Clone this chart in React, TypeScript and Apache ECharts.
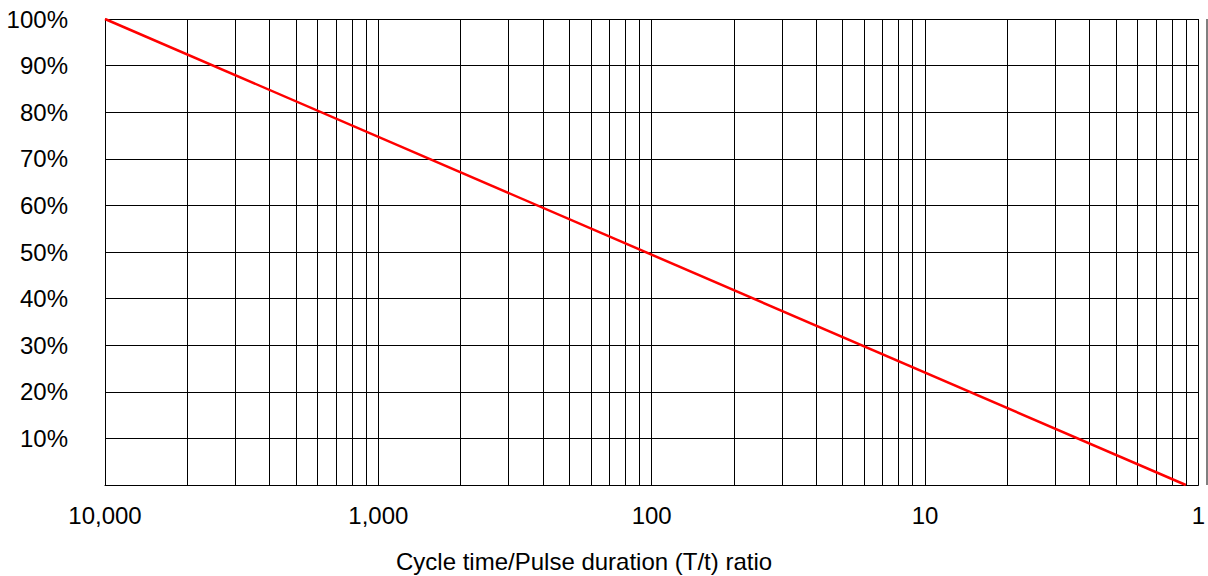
import React, { useEffect, useRef } from "react";
import * as echarts from "echarts";

// Duty (pulse duration / cycle time); axis labels show its reciprocal T/t
const dutyPoints = [0.0001, 0.9];
const deratingPct = [100, 0];

// Tick labels at each decade (by exponent of duty)
const decadeExponents = [-4, -3, -2, -1, 0];
const decadeLabels = ["10,000", "1,000", "100", "10", "1"];

// Minor grid multipliers inside each decade
const minorMultipliers = [2, 3, 4, 5, 6, 7, 8, 9];
const minorDecades = [0.0001, 0.001, 0.01, 0.1];

const yTicks = [0, 10, 20, 30, 40, 50, 60, 70, 80, 90, 100];

const axisName = "Cycle time/Pulse duration (T/t) ratio";

const FONT = "'Liberation Sans', Arial, sans-serif";
const FS = 24;

export default function App() {
  const ref = useRef<HTMLDivElement>(null);

  useEffect(() => {
    if (!ref.current) return;
    const chart = echarts.init(ref.current, undefined, { renderer: "svg" });

    const yMin = yTicks[0];
    const yMax = yTicks[yTicks.length - 1];
    const minorLines: any[] = [];
    minorDecades.forEach((d) => {
      minorMultipliers.forEach((m) => {
        const x = +(d * m).toPrecision(6);
        minorLines.push({ coords: [[x, yMin], [x, yMax]] });
      });
    });

    const seriesData = dutyPoints.map((x, i) => [x, deratingPct[i]]);

    chart.setOption({
      animation: false,
      backgroundColor: "#ffffff",
      grid: { left: 105, right: 1, top: 19, bottom: 91, containLabel: false },
      xAxis: {
        type: "log",
        logBase: 10,
        min: 0.0001,
        max: 1,
        axisLine: { show: true, lineStyle: { color: "#000", width: 1 } },
        axisTick: { show: false },
        splitLine: { show: true, lineStyle: { color: "#000", width: 1 } },
        axisLabel: {
          show: true,
          margin: 18,
          fontSize: FS,
          fontFamily: FONT,
          color: "#000",
          showMinLabel: true,
          showMaxLabel: true,
          formatter: (v: number) => {
            const e = Math.round(Math.log10(v));
            const idx = decadeExponents.indexOf(e);
            return idx >= 0 ? decadeLabels[idx] : "";
          },
        },
      },
      yAxis: {
        type: "value",
        min: yMin,
        max: yMax,
        interval: 10,
        axisLine: { show: true, lineStyle: { color: "#000", width: 1 } },
        axisTick: { show: false },
        splitLine: { show: true, lineStyle: { color: "#000", width: 1 } },
        axisLabel: {
          margin: 37,
          fontSize: FS,
          fontFamily: FONT,
          color: "#000",
          formatter: (v: number) => (v === 0 ? "" : v + "%"),
        },
      },
      graphic: [
        {
          type: "text",
          left: 396,
          top: 549,
          style: {
            text: axisName,
            fontSize: FS,
            fontFamily: FONT,
            fill: "#000",
          },
        },
        {
          type: "line",
          shape: { x1: 1207, y1: 19, x2: 1207, y2: 485 },
          style: { stroke: "#000", lineWidth: 1 },
        },
      ],
      series: [
        {
          type: "lines",
          coordinateSystem: "cartesian2d",
          silent: true,
          polyline: false,
          lineStyle: { color: "#000", width: 1, opacity: 1 },
          data: minorLines,
          z: 1,
        },
        {
          type: "line",
          data: seriesData,
          showSymbol: false,
          symbol: "none",
          lineStyle: { color: "#ff0000", width: 2.5 },
          z: 5,
        },
      ],
    });

    return () => chart.dispose();
  }, []);

  return (
    <div
      ref={ref}
      style={{ position: "absolute", left: 0, top: 0, width: 1208, height: 576 }}
    />
  );
}
